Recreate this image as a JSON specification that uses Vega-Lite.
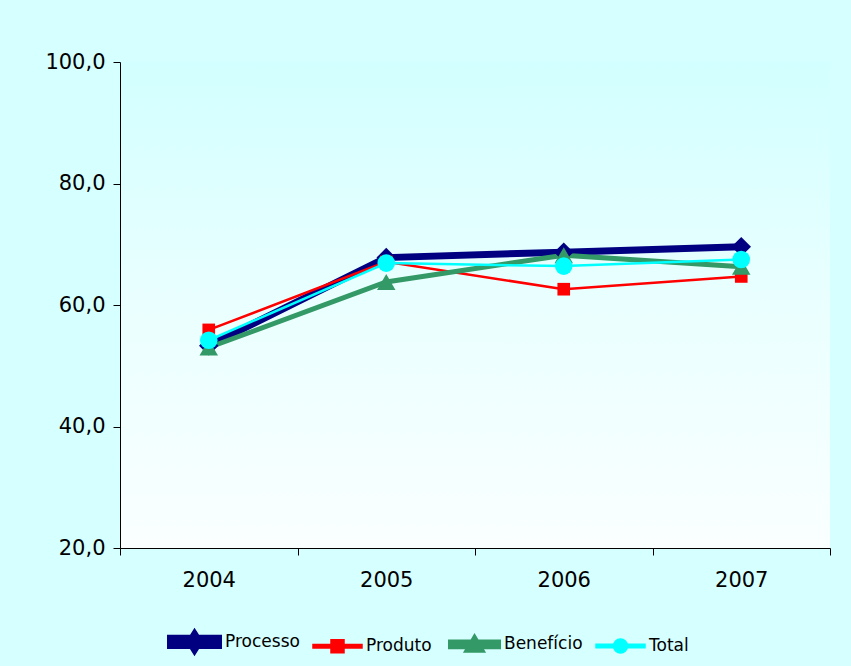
{
  "$schema": "https://vega.github.io/schema/vega-lite/v6.json",
  "width": 710,
  "height": 486,
  "autosize": {"type": "none"},
  "padding": {"left": 120, "top": 62, "right": 21, "bottom": 118},
  "background": "#D6FFFF",
  "config": {
    "font": "DejaVu Sans",
    "view": {
      "stroke": null,
      "fill": {
        "gradient": "linear",
        "x1": 0, "y1": 0, "x2": 0, "y2": 1,
        "stops": [
          {"offset": 0, "color": "#D2FFFF"},
          {"offset": 0.5, "color": "#EAFFFF"},
          {"offset": 1, "color": "#FAFFFF"}
        ]
      }
    },
    "axis": {
      "labelFont": "DejaVu Sans",
      "labelFontSize": 21,
      "labelColor": "#000000",
      "domainColor": "#000000",
      "tickColor": "#000000",
      "tickSize": 7,
      "grid": false,
      "title": null
    }
  },
  "data": {
    "values": [
      {"ano": "2004", "serie": "Processo", "valor": 53.3},
      {"ano": "2005", "serie": "Processo", "valor": 67.8},
      {"ano": "2006", "serie": "Processo", "valor": 68.7},
      {"ano": "2007", "serie": "Processo", "valor": 69.6},
      {"ano": "2004", "serie": "Produto", "valor": 55.9},
      {"ano": "2005", "serie": "Produto", "valor": 67.1},
      {"ano": "2006", "serie": "Produto", "valor": 62.6},
      {"ano": "2007", "serie": "Produto", "valor": 64.7},
      {"ano": "2004", "serie": "Benefício", "valor": 53.0},
      {"ano": "2005", "serie": "Benefício", "valor": 63.8},
      {"ano": "2006", "serie": "Benefício", "valor": 68.2},
      {"ano": "2007", "serie": "Benefício", "valor": 66.3},
      {"ano": "2004", "serie": "Total", "valor": 54.2},
      {"ano": "2005", "serie": "Total", "valor": 66.9},
      {"ano": "2006", "serie": "Total", "valor": 66.4},
      {"ano": "2007", "serie": "Total", "valor": 67.5}
    ]
  },
  "encoding": {
    "x": {
      "field": "ano",
      "type": "ordinal",
      "bandPosition": 0.5,
      "scale": {"type": "band", "paddingInner": 0, "paddingOuter": 0},
      "axis": {"labelAngle": 0, "tickBand": "extent", "labelPadding": 14}
    },
    "y": {
      "field": "valor",
      "type": "quantitative",
      "scale": {"domain": [20, 100], "nice": false, "zero": false},
      "axis": {
        "values": [20, 40, 60, 80, 100],
        "labelExpr": "replace(format(datum.value, '.1f'), '.', ',')",
        "labelPadding": 8
      }
    },
    "color": {
      "field": "serie",
      "type": "nominal",
      "scale": {
        "domain": ["Processo", "Produto", "Benefício", "Total"],
        "range": ["#000080", "#FF0000", "#339966", "#00FFFF"]
      },
      "legend": {
        "title": null,
        "orient": "none",
        "direction": "horizontal",
        "legendX": 47,
        "legendY": 552,
        "padding": 0,
        "symbolSize": 2304,
        "symbolStrokeWidth": 0,
        "labelFontSize": 17,
        "labelFont": "DejaVu Sans",
        "labelColor": "#000000",
        "labelOffset": 3,
        "columnPadding": 8
      }
    }
  },
  "layer": [
    {
      "transform": [{"filter": "false"}],
      "mark": {"type": "point", "filled": true, "opacity": 1},
      "encoding": {
        "shape": {
          "field": "serie",
          "type": "nominal",
          "scale": {
            "domain": ["Processo", "Produto", "Benefício", "Total"],
            "range": [
              "M-1,-0.15H1V0.15H-1Z M0,-0.32L0.2,0L0,0.32L-0.2,0Z",
              "M-1,-0.05H1V0.05H-1Z M-0.25,-0.25H0.25V0.25H-0.25Z",
              "M-1,-0.1H1V0.1H-1Z M0,-0.27L0.3,0.24L-0.3,0.24Z",
              "M-1,-0.05H1V0.05H-1Z M-0.27,0A0.27,0.27 0 1 1 0.27,0A0.27,0.27 0 1 1 -0.27,0Z"
            ]
          },
          "legend": null
        }
      }
    },
    {
      "mark": {"type": "line"},
      "encoding": {
        "strokeWidth": {
          "field": "serie",
          "type": "nominal",
          "scale": {
            "type": "ordinal",
            "domain": ["Processo", "Produto", "Benefício", "Total"],
            "range": [7, 2.5, 5, 2.5]
          },
          "legend": null
        }
      }
    },
    {
      "transform": [{"filter": "datum.serie === 'Processo'"}],
      "mark": {"type": "point", "filled": true, "opacity": 1, "shape": "diamond", "size": 380}
    },
    {
      "transform": [{"filter": "datum.serie === 'Produto'"}],
      "mark": {"type": "point", "filled": true, "opacity": 1, "shape": "square", "size": 160}
    },
    {
      "transform": [{"filter": "datum.serie === 'Benefício'"}],
      "mark": {"type": "point", "filled": true, "opacity": 1, "shape": "triangle-up", "size": 340}
    },
    {
      "transform": [{"filter": "datum.serie === 'Total'"}],
      "mark": {"type": "point", "filled": true, "opacity": 1, "shape": "circle", "size": 310}
    }
  ]
}
